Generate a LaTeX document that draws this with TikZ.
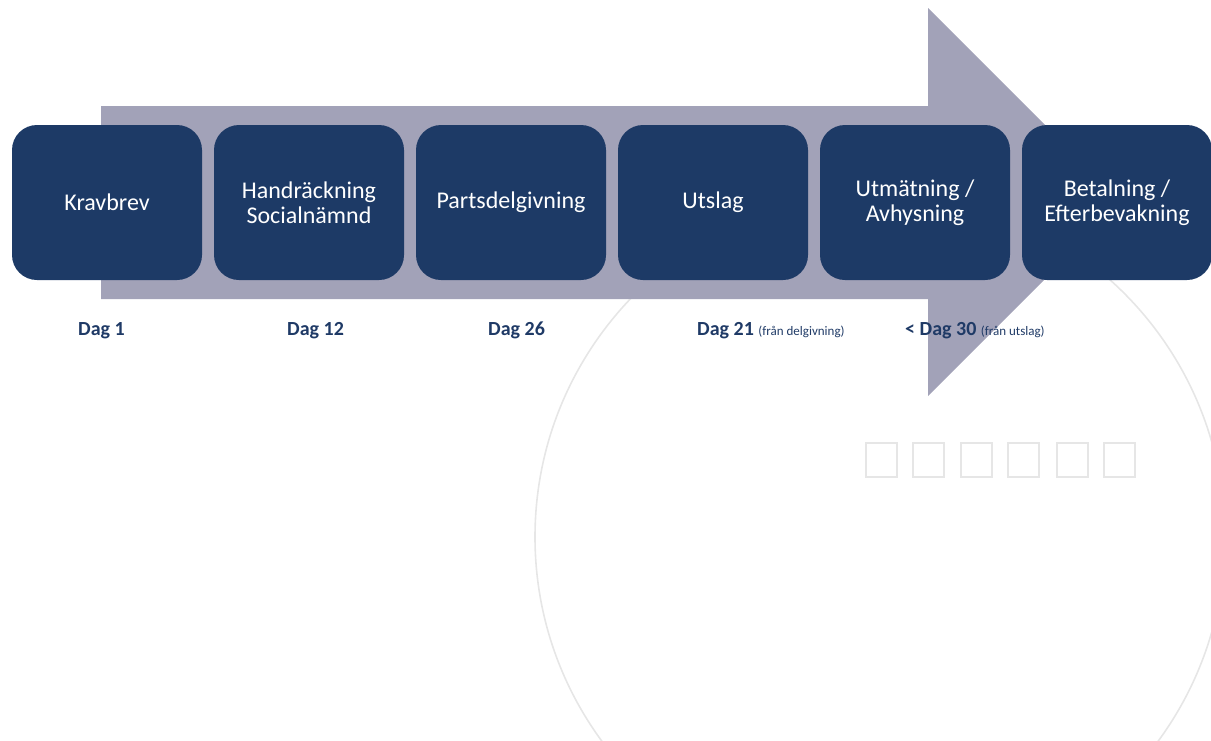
\documentclass[tikz,border=0pt]{standalone}
\usepackage{fontspec}
\setmainfont{Carlito}
\definecolor{boxnavy}{HTML}{1D3A66}
\definecolor{arrowgray}{HTML}{A2A2B8}
\definecolor{labnavy}{HTML}{1F3A66}
\definecolor{ghost}{HTML}{E6E6E6}
\newcommand{\notefont}{\fontsize{13}{14}\selectfont\mdseries}
\begin{document}
\begin{tikzpicture}[x=1pt,y=-1pt,
  stepbox/.style={draw=none,fill=boxnavy,rounded corners=25pt,minimum width=190pt,minimum height=155pt,
    text=white,align=center,inner sep=0pt,font=\fontsize{24}{25}\selectfont},
  daglabel/.style={anchor=base west,inner sep=0pt,text=labnavy,font=\fontsize{20}{22}\selectfont\bfseries},
  ghostsq/.style={draw=ghost,line width=1.6pt}]
\useasboundingbox (0,0) rectangle (1211,740);
\clip (0,0) rectangle (1211,740);
% background circle
\draw[ghost,line width=1.6pt] (880,537) circle[radius=345];
% big arrow
\fill[arrowgray] (101,106) -- (928,106) -- (928,8) -- (1122,202) -- (928,396) -- (928,299) -- (101,299) -- cycle;
% ghost squares
\foreach \xx in {866,913,961,1008,1057,1104}{
  \draw[ghostsq] (\xx,443) rectangle (\xx+31,477);
}
% step boxes
\node[stepbox] (b1) at (107,202.5) {Kravbrev};
\node[stepbox] (b2) at (309,202.5) {Handräckning\\Socialnämnd};
\node[stepbox] (b3) at (511,202.5) {Partsdelgivning};
\node[stepbox] (b4) at (713,202.5) {Utslag};
\node[stepbox] (b5) at (915,202.5) {Utmätning /\\Avhysning};
\node[stepbox] (b6) at (1117,202.5) {Betalning /\\Efterbevakning};
% day labels
\node[daglabel] (l1) at (78,335) {Dag 1};
\node[daglabel] (l2) at (287,335) {Dag 12};
\node[daglabel] (l3) at (488,335) {Dag 26};
\node[daglabel] (l4) at (697,335) {Dag 21 {\notefont (från delgivning)}};
\node[daglabel] (l5) at (905,335) {< Dag 30 {\notefont (från utslag)}};
\end{tikzpicture}
\end{document}
